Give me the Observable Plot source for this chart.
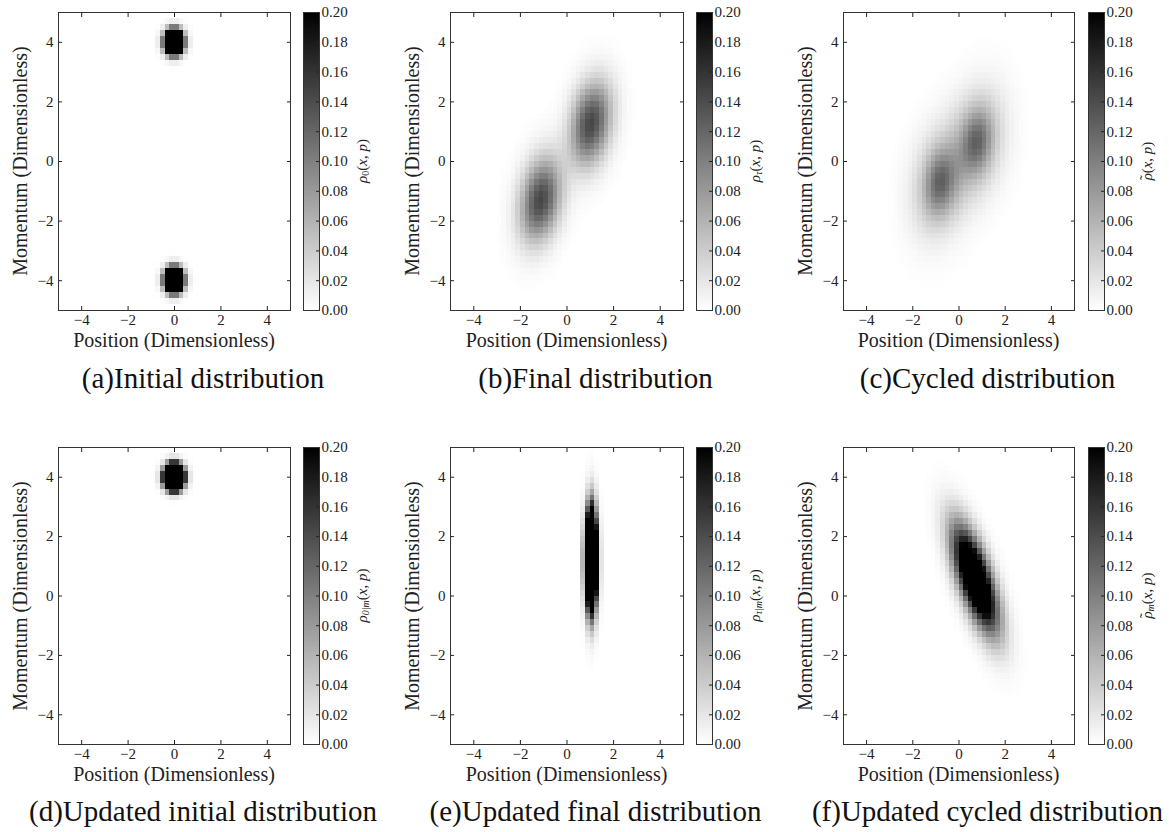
<!DOCTYPE html>
<html><head><meta charset="utf-8">
<script src="https://cdn.jsdelivr.net/npm/d3@7"></script>
<script src="https://cdn.jsdelivr.net/npm/@observablehq/plot@0.6"></script>
<style>
body{margin:0;background:#fff;}
#fig{position:relative;width:1169px;height:832px;background:#fff;overflow:hidden;}
.row{position:absolute;left:0;width:1169px;}
.abs{position:absolute;}
.abs svg{max-width:none !important;}
.cap{position:absolute;font-family:"Liberation Serif",serif;font-size:29px;white-space:nowrap;transform:translate(-50%,-50%);color:#111;}
.axl{position:absolute;font-family:"Liberation Serif",serif;font-size:20px;white-space:nowrap;color:#222;}
</style></head><body><div id="fig"></div>
<script>
// ---- text ----
const captions = ["(a)Initial distribution","(b)Final distribution","(c)Cycled distribution",
                  "(d)Updated initial distribution","(e)Updated final distribution","(f)Updated cycled distribution"];
const panelKeys = ["a","b","c","d","e","f"];
const cbarSymbol = ["ρ","ρ","ρ","ρ","ρ","ρ"];
const cbarTilde = [false,false,true,false,false,true];
const cbarSub = ["0","τ","","0|m","τ|m","m"];
const xLabel = "Position (Dimensionless)";
const yLabel = "Momentum (Dimensionless)";
const axisTicks = [-4,-2,0,2,4];
const cbarTicks = [0,0.02,0.04,0.06,0.08,0.10,0.12,0.14,0.16,0.18,0.20];
const colorDomain = [0, 0.2];
const axisDomain = [-5, 5];
const cellSize = 0.2;

// ---- Gaussian component parameters (one entry per component) ----
const blobPanel = ["a","a","b","b","c","c","c","c","d","e","f"];
const blobX     = [0, 0, -1.12, 1.05, -0.8, 0.8, -0.8, 0.8, 0, 1.07, 0.72];
const blobP     = [4, -4, -1.3, 1.25, -0.72, 0.65, -0.72, 0.65, 4, 1.2, 0.55];
const blobSigX  = [0.24, 0.24, 0.6, 0.6, 0.45, 0.45, 0.8, 0.8, 0.24, 0.155, 0.65];
const blobSigP  = [0.24, 0.24, 0.95, 0.95, 0.7, 0.7, 1.2, 1.2, 0.24, 1.0, 1.15];
const blobCorr  = [0, 0, 0.25, 0.25, 0.15, 0.15, 0.2, 0.2, 0, 0, -0.68];
const blobPeak  = [1.0, 1.0, 0.145, 0.145, 0.062, 0.062, 0.058, 0.058, 1.5, 1.0, 0.35];

// ---- layout (pixels) ----
const frameL = [58, 450, 843], frameR = [290, 683, 1074];
const frameT = [12, 447], frameB = [310, 744];
const cbarL = [303, 696, 1088], cbarW = 16;
const rowTop = [0, 400], rowH = [400, 392];
const capY = [378, 811], capShift = 29;

function density(key, x, p) {
  let v = 0;
  for (let b = 0; b < blobPanel.length; b++) {
    if (blobPanel[b] !== key) continue;
    const dx = (x - blobX[b]) / blobSigX[b], dp = (p - blobP[b]) / blobSigP[b], r = blobCorr[b];
    const q = (dx*dx - 2*r*dx*dp + dp*dp) / (1 - r*r);
    v += blobPeak[b] * Math.exp(-q/2);
  }
  return v;
}
function cellsFor(key) {
  const n = Math.round((axisDomain[1]-axisDomain[0]) / cellSize), out = [];
  for (let i = 0; i < n; i++) for (let j = 0; j < n; j++) {
    const x1 = axisDomain[0] + i*cellSize, y1 = axisDomain[0] + j*cellSize;
    const v = density(key, x1 + cellSize/2, y1 + cellSize/2);
    if (v > 0.0008) out.push({x1, x2: x1 + cellSize, y1, y2: y1 + cellSize, v});
  }
  return out;
}
const fmtTick = d => d < 0 ? "\u2212" + (-d) : String(d);
const colorOpt = {type: "linear", domain: colorDomain, range: ["#ffffff", "#000000"], clamp: true};
const styleOpt = {fontFamily: "Liberation Serif", fontSize: "15px", background: "transparent", color: "#222", overflow: "visible"};

const fig = document.getElementById("fig");
const rows = rowTop.map((t, r) => {
  const d = document.createElement("div"); d.className = "row";
  d.style.top = t + "px"; d.style.height = rowH[r] + "px"; fig.appendChild(d); return d;
});
function place(parent, el, left, top, w, h) {
  const d = document.createElement("div"); d.className = "abs";
  d.style.left = left + "px"; d.style.top = top + "px"; d.style.width = w + "px"; d.style.height = h + "px";
  el.style.maxWidth = "none";
  d.appendChild(el); parent.appendChild(d); return d;
}

panelKeys.forEach((key, k) => {
  const r = Math.floor(k / 3), c = k % 3, parent = rows[r], off = rowTop[r];
  const L = frameL[c], R = frameR[c], T = frameT[r], B = frameB[r];
  const mL = 40, mT = 10, mR = 10, mB = 30;
  const W = (R - L) + mL + mR, H = (B - T) + mT + mB;
  const heat = Plot.plot({
    width: W, height: H,
    marginLeft: mL, marginRight: mR, marginTop: mT, marginBottom: mB,
    x: {domain: axisDomain}, y: {domain: axisDomain},
    color: colorOpt, style: styleOpt,
    marks: [
      Plot.rect(cellsFor(key), {x1: "x1", x2: "x2", y1: "y1", y2: "y2", fill: "v", shapeRendering: "crispEdges"}),
      Plot.axisX({ticks: axisTicks, tickSize: 0, tickPadding: 4, tickFormat: fmtTick, label: null}),
      Plot.axisY({ticks: axisTicks, tickSize: 0, tickPadding: 5, tickFormat: fmtTick, label: null}),
      Plot.axisX({anchor: "bottom", ticks: axisTicks, tickSize: -4, tickFormat: () => "", label: null}),
      Plot.axisX({anchor: "top", ticks: axisTicks, tickSize: -4, tickFormat: () => "", label: null}),
      Plot.axisY({anchor: "left", ticks: axisTicks, tickSize: -4, tickFormat: () => "", label: null}),
      Plot.axisY({anchor: "right", ticks: axisTicks, tickSize: -4, tickFormat: () => "", label: null}),
      Plot.frame({stroke: "#333"})
    ]
  });
  place(parent, heat, L - mL, T - off - mT, W, H);

  // colorbar
  const steps = d3.range(200).map(i => ({y1: i*colorDomain[1]/200, y2: (i+1)*colorDomain[1]/200, v: (i+0.5)*colorDomain[1]/200}));
  const cmL = 1, cmR = 60;
  const CW = cbarW + cmL + cmR;
  const cbar = Plot.plot({
    width: CW, height: H,
    marginLeft: cmL, marginRight: cmR, marginTop: mT, marginBottom: mB,
    x: {domain: [0, 1], axis: null}, y: {domain: colorDomain},
    color: colorOpt, style: styleOpt,
    marks: [
      Plot.rect(steps, {y1: "y1", y2: "y2", fill: "v", shapeRendering: "crispEdges"}),
      Plot.axisY({anchor: "right", ticks: cbarTicks, tickSize: 0, tickPadding: 2, tickFormat: d3.format(".2f"), label: null}),
      Plot.axisY({anchor: "right", ticks: cbarTicks, tickSize: -4, tickFormat: () => "", label: null}),
      Plot.frame({stroke: "#333"})
    ]
  });
  const svg = d3.select(cbar.tagName.toLowerCase() === "svg" ? cbar : cbar.querySelector("svg"));
  const lx = cmL + cbarW + 43, ly = mT + (B - T) / 2;
  const t = svg.append("text").attr("transform", `translate(${lx},${ly}) rotate(-90)`)
    .attr("text-anchor", "middle").attr("dominant-baseline", "central")
    .attr("font-family", "Liberation Serif").attr("font-size", 15).attr("fill", "#222");
  t.append("tspan").attr("font-style", "italic").text(cbarSymbol[k]);
  let back = 0;
  if (cbarTilde[k]) {
    t.append("tspan").attr("dx", -6.8).attr("dy", -2).text("\u02DC");
    back = 2;
  }
  const dxNext = cbarTilde[k] ? 1.6 : 0;
  if (cbarSub[k]) {
    t.append("tspan").attr("font-size", 10).attr("font-style", cbarSub[k] === "0" ? "normal" : "italic")
      .attr("dx", dxNext).attr("dy", 3 + back).text(cbarSub[k]);
    t.append("tspan").attr("dy", -3).text("(");
  } else t.append("tspan").attr("dx", dxNext).attr("dy", back).text("(");
  t.append("tspan").attr("font-style", "italic").text("x");
  t.append("tspan").text(", ");
  t.append("tspan").attr("font-style", "italic").text("p");
  t.append("tspan").text(")");
  place(parent, cbar, cbarL[c] - cmL, T - off - mT, CW, H);

  // axis labels
  const xl = document.createElement("div"); xl.className = "axl"; xl.textContent = xLabel;
  xl.style.left = ((L + R) / 2) + "px"; xl.style.top = (B - off + 30) + "px";
  xl.style.transform = "translate(-50%,-50%)"; parent.appendChild(xl);
  const yl = document.createElement("div"); yl.className = "axl"; yl.textContent = yLabel;
  yl.style.left = (L - 38) + "px"; yl.style.top = ((T + B) / 2 - off) + "px";
  yl.style.transform = "translate(-50%,-50%) rotate(-90deg)"; parent.appendChild(yl);

  // caption
  const cap = document.createElement("div"); cap.className = "cap"; cap.textContent = captions[k];
  cap.style.left = ((L + R) / 2 + capShift) + "px"; cap.style.top = capY[r] + "px"; fig.appendChild(cap);
});
</script></body></html>
